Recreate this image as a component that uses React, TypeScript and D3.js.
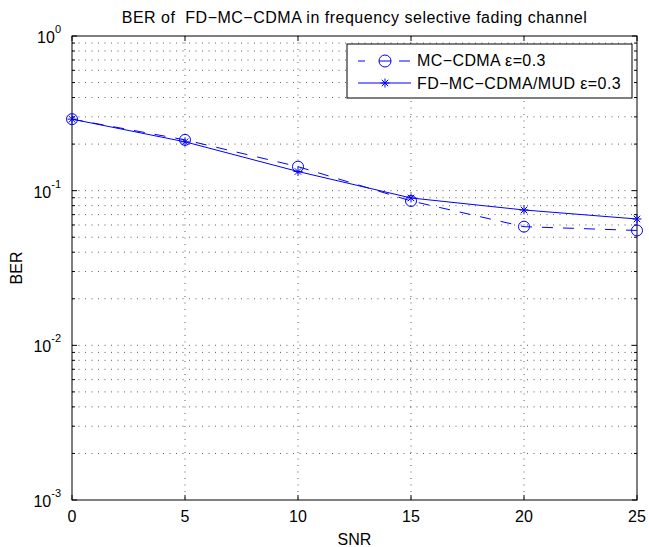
import React from "react";
import * as d3 from "d3";

const snr = [0, 5, 10, 15, 20, 25];
const berMC = [0.29, 0.213, 0.143, 0.0858, 0.0585, 0.0553];
const berFD = [0.29, 0.207, 0.133, 0.0897, 0.075, 0.0656];
const xTicks = [0, 5, 10, 15, 20, 25];
const yDecades = [-3, -2, -1, 0];
const legendLabels = ["MC\u2212CDMA \u03b5=0.3", "FD\u2212MC\u2212CDMA/MUD \u03b5=0.3"];
const title = "BER of  FD\u2212MC\u2212CDMA in frequency selective fading channel";

const W = 649, H = 547;
const L = 72, R = 637, T = 36, B = 500;
const FONT = "Liberation Sans, Arial, Helvetica, sans-serif";
const BLUE = "#0000ff";
const FS = 16;

export default function App() {
  const x = d3.scaleLinear().domain([0, 25]).range([L, R]);
  const y = d3.scaleLog().domain([1e-3, 1]).range([B, T]);
  const minor: number[] = [];
  for (let e = -3; e < 0; e++) for (let m = 2; m <= 9; m++) minor.push(m * Math.pow(10, e));
  const line = d3.line<number>().x((_, i) => x(snr[i])).y((d) => y(d));
  const star = (cx: number, cy: number, r: number, k: string) => (
    <g key={k} stroke={BLUE} strokeWidth={1}>
      <line x1={cx - r} y1={cy} x2={cx + r} y2={cy} />
      <line x1={cx} y1={cy - r} x2={cx} y2={cy + r} />
      <line x1={cx - r * 0.72} y1={cy - r * 0.72} x2={cx + r * 0.72} y2={cy + r * 0.72} />
      <line x1={cx - r * 0.72} y1={cy + r * 0.72} x2={cx + r * 0.72} y2={cy - r * 0.72} />
    </g>
  );
  const grid = "1,5.5";
  const gridStroke = "#333";
  return (
    <svg width={W} height={H} style={{ position: "absolute", left: 0, top: 0, background: "#fff" }} fontFamily={FONT}>
      <rect x={0} y={0} width={W} height={H} fill="#fff" />
      {/* grid */}
      {xTicks.slice(1, -1).map((t) => (
        <line key={"gx" + t} x1={x(t)} x2={x(t)} y1={T} y2={B} stroke={gridStroke} strokeWidth={0.8} strokeDasharray={grid} />
      ))}
      {[...minor, 1e-2, 1e-1].map((v, i) => (
        <line key={"gy" + i} x1={L} x2={R} y1={y(v)} y2={y(v)} stroke={gridStroke} strokeWidth={0.8} strokeDasharray={grid} />
      ))}
      {/* ticks */}
      {xTicks.map((t) => (
        <g key={"tx" + t}>
          <line x1={x(t)} x2={x(t)} y1={B} y2={B - 5} stroke="#000" />
          <line x1={x(t)} x2={x(t)} y1={T} y2={T + 5} stroke="#000" />
          <text x={x(t)} y={522} fontSize={FS} textAnchor="middle">{t}</text>
        </g>
      ))}
      {yDecades.map((e) => (
        <g key={"ty" + e}>
          <line x1={L} x2={L + 5} y1={y(Math.pow(10, e))} y2={y(Math.pow(10, e))} stroke="#000" />
          <line x1={R} x2={R - 5} y1={y(Math.pow(10, e))} y2={y(Math.pow(10, e))} stroke="#000" />
          <text x={L - 11} y={y(Math.pow(10, e)) + 7} fontSize={FS} textAnchor="end">
            10<tspan dy={-10} fontSize={11}>{e}</tspan>
          </text>
        </g>
      ))}
      {minor.map((v, i) => (
        <g key={"my" + i}>
          <line x1={L} x2={L + 3} y1={y(v)} y2={y(v)} stroke="#000" />
          <line x1={R} x2={R - 3} y1={y(v)} y2={y(v)} stroke="#000" />
        </g>
      ))}
      {/* box */}
      <rect x={L} y={T} width={R - L} height={B - T} fill="none" stroke="#000" strokeWidth={1} />
      {/* series */}
      <path d={line(berMC) || ""} fill="none" stroke={BLUE} strokeWidth={1} strokeDasharray="11,10" />
      <path d={line(berFD) || ""} fill="none" stroke={BLUE} strokeWidth={1} />
      {berMC.map((v, i) => (
        <circle key={"c" + i} cx={x(snr[i])} cy={y(v)} r={5.5} fill="none" stroke={BLUE} strokeWidth={1} />
      ))}
      {berFD.map((v, i) => star(x(snr[i]), y(v), 4.5, "s" + i))}
      {/* legend */}
      <rect x={347} y={44} width={285} height={54} fill="#fff" stroke="#000" strokeWidth={1} />
      <line x1={358} x2={365} y1={61} y2={61} stroke={BLUE} />
      <line x1={379} x2={391} y1={61} y2={61} stroke={BLUE} />
      <line x1={399} x2={410} y1={61} y2={61} stroke={BLUE} />
      <circle cx={385} cy={61} r={6} fill="none" stroke={BLUE} />
      <text x={417} y={66} fontSize={FS} letterSpacing={0.4}>{legendLabels[0]}</text>
      <line x1={358} x2={411} y1={83} y2={83} stroke={BLUE} />
      {star(385, 83, 4.5, "ls")}
      <text x={417} y={89} fontSize={FS} letterSpacing={0.4}>{legendLabels[1]}</text>
      {/* labels */}
      <text x={(L + R) / 2} y={23} fontSize={FS} textAnchor="middle" letterSpacing={0.5} style={{ whiteSpace: "pre" }}>{title}</text>
      <text x={(L + R) / 2} y={545} fontSize={FS} textAnchor="middle">SNR</text>
      <text transform={`translate(22,${(T + B) / 2}) rotate(-90)`} fontSize={FS} textAnchor="middle">BER</text>
    </svg>
  );
}
